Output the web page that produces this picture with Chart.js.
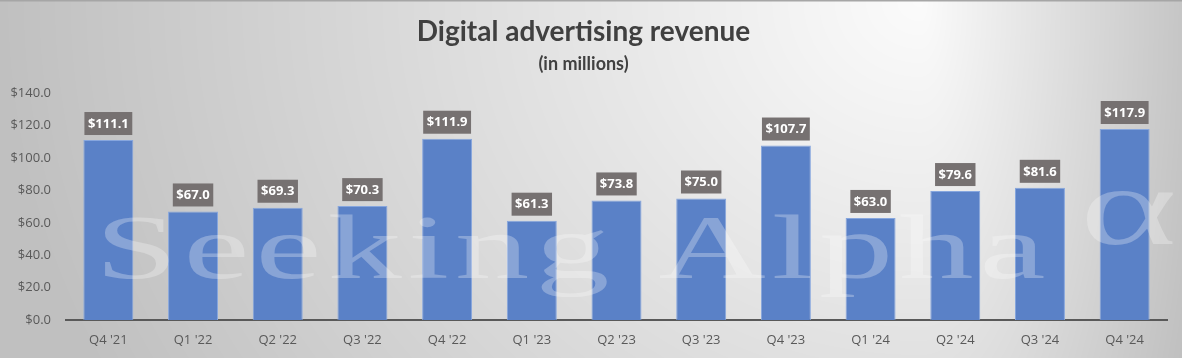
<!DOCTYPE html>
<html>
<head>
<meta charset="utf-8">
<script src="https://cdn.jsdelivr.net/npm/chart.js@4.4.1/dist/chart.umd.min.js"></script>
<style>
html,body{margin:0;padding:0;background:#fff;}
#c{display:block;}
</style>
</head>
<body>
<canvas id="c" width="1182" height="358"></canvas>
<script>
const categories = ["Q4 '21","Q1 '22","Q2 '22","Q3 '22","Q4 '22","Q1 '23","Q2 '23","Q3 '23","Q4 '23","Q1 '24","Q2 '24","Q3 '24","Q4 '24"];
const revenue = [111.1, 67.0, 69.3, 70.3, 111.9, 61.3, 73.8, 75.0, 107.7, 63.0, 79.6, 81.6, 117.9];
const yTicks = [0, 20, 40, 60, 80, 100, 120, 140];
const titleText = "Digital advertising revenue";
const subtitleText = "(in millions)";
const watermarkText = "Seeking Alpha";
const watermarkSymbol = "\u03B1";

const bgPlugin = {
  id: 'bg',
  beforeDraw(chart) {
    const ctx = chart.ctx;
    const w = chart.width, h = chart.height;
    const img = ctx.createImageData(w, h);
    const cx = 920, cy = 0;
    const exL = 920, exR = 290, ey = 820;
    const c0 = 251, c1 = 192;
    for (let y = 0; y < h; y++) {
      for (let x = 0; x < w; x++) {
        const dx = (x - cx) / (x < cx ? exL : exR);
        const dy = (y - cy) / ey;
        let t = Math.sqrt(dx*dx + dy*dy);
        if (t > 1) t = 1;
        const v = Math.round(c0 + (c1 - c0) * t);
        const i = (y * w + x) * 4;
        img.data[i] = v; img.data[i+1] = v; img.data[i+2] = v; img.data[i+3] = 255;
      }
    }
    ctx.putImageData(img, 0, 0);
    ctx.save();
    ctx.fillStyle = '#a6a6a6';
    ctx.fillRect(0, 0, w, 1.5);
    ctx.restore();
  }
};

const overlayPlugin = {
  id: 'overlay',
  afterDatasetsDraw(chart) {
    const ctx = chart.ctx;
    const k = 1.65;
    // watermark (horizontally stretched serif text)
    ctx.save();
    ctx.font = '90px "Liberation Serif", "DejaVu Serif", serif';
    ctx.fillStyle = 'rgba(255,255,255,0.28)';
    ctx.textBaseline = 'alphabetic';
    ctx.translate(95, 278);
    ctx.scale(k, 1);
    let x = 0;
    const spacing = 6 / k;
    for (const ch of watermarkText) {
      ctx.fillText(ch, x, 0);
      x += ctx.measureText(ch).width + spacing;
    }
    ctx.restore();
    ctx.save();
    ctx.font = '112px "Liberation Serif", "DejaVu Serif", serif';
    ctx.fillStyle = 'rgba(255,255,255,0.28)';
    ctx.translate(1080, 244);
    ctx.scale(k, 1);
    ctx.fillText(watermarkSymbol, 0, 0);
    ctx.restore();
    // data labels
    const meta = chart.getDatasetMeta(0);
    ctx.save();
    ctx.font = 'bold 13px "Open Sans", sans-serif';
    ctx.textAlign = 'center';
    ctx.textBaseline = 'middle';
    meta.data.forEach((bar, i) => {
      const label = '$' + revenue[i].toFixed(1);
      const tw = ctx.measureText(label).width;
      const bw = tw + 7, bh = 23;
      const bottom = bar.y - 5;
      ctx.fillStyle = '#767171';
      ctx.fillRect(bar.x - bw/2, bottom - bh, bw, bh);
      ctx.fillStyle = '#ffffff';
      ctx.fillText(label, bar.x, bottom - bh/2 + 0.5);
    });
    ctx.restore();
  }
};

function build() {
  new Chart(document.getElementById('c'), {
    type: 'bar',
    data: {
      labels: categories,
      datasets: [{
        data: revenue,
        backgroundColor: '#5A81C7',
        borderColor: '#86A6DE',
        borderWidth: {top: 1, left: 1, right: 1, bottom: 0},
        barPercentage: 0.59,
        categoryPercentage: 1.0
      }]
    },
    options: {
      responsive: false,
      animation: false,
      devicePixelRatio: 1,
      layout: { padding: { left: 0, right: 15, top: 0, bottom: 0 } },
      plugins: {
        legend: { display: false },
        tooltip: { enabled: false },
        title: {
          display: true,
          text: titleText,
          color: '#404040',
          font: { family: 'Lato', weight: 'bold', size: 28, lineHeight: 1.2 },
          padding: { top: 15, bottom: 0 }
        },
        subtitle: {
          display: true,
          text: subtitleText,
          color: '#404040',
          font: { family: 'Lato', weight: 'bold', size: 18, lineHeight: 1.2 },
          padding: { top: 5, bottom: 18 }
        }
      },
      scales: {
        x: {
          afterFit(axis) { axis.height = 38; },
          grid: { display: false, drawTicks: false },
          border: { display: true, color: '#595959', width: 2 },
          ticks: { color: '#595959', font: { family: 'Open Sans', size: 13 }, padding: 12, maxRotation: 0 }
        },
        y: {
          min: 0, max: 140,
          afterBuildTicks(axis) { axis.ticks = yTicks.map(v => ({ value: v })); },
          afterFit(axis) { axis.width = 66; },
          grid: { display: false, drawTicks: false },
          border: { display: false },
          ticks: {
            color: '#595959',
            font: { family: 'Open Sans', size: 13 },
            padding: 15,
            callback: v => '$' + Number(v).toFixed(1)
          }
        }
      }
    },
    plugins: [bgPlugin, overlayPlugin]
  });
}

Promise.all([
  document.fonts.load('13px "Open Sans"'),
  document.fonts.load('bold 13px "Open Sans"'),
  document.fonts.load('bold 28px "Lato"'),
  document.fonts.load('90px "Liberation Serif"')
]).then(build, build);
</script>
</body>
</html>
